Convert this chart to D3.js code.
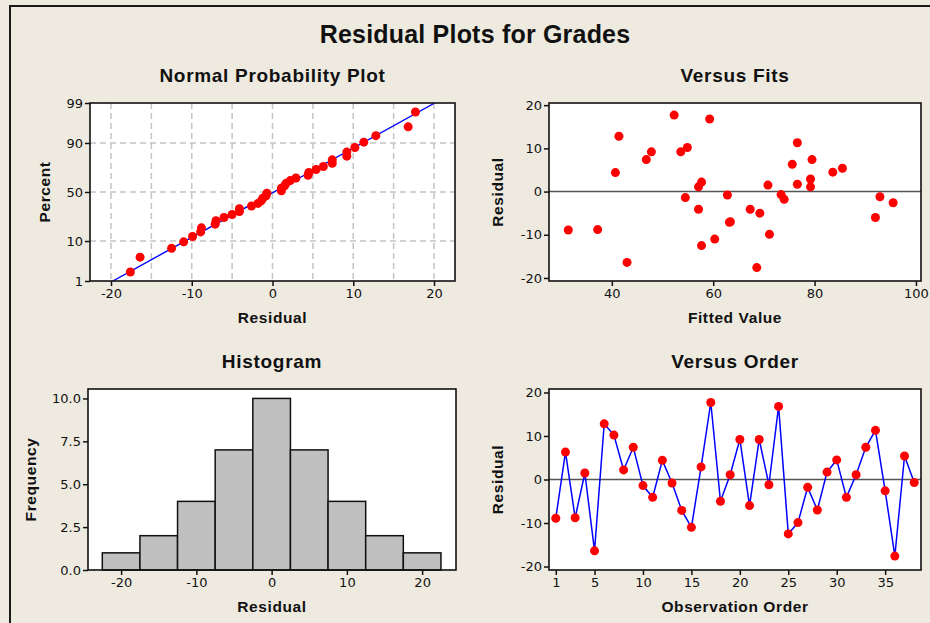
<!DOCTYPE html>
<html>
<head>
<meta charset="utf-8">
<script src="https://cdn.jsdelivr.net/npm/d3@7"></script>
<style>
body { margin: 0; background: #eeeae0; }
text { font-family: "Liberation Sans", Arial, sans-serif; fill: #111; }
</style>
</head>
<body>
<svg id="chart" width="930" height="623"></svg>
<script>
// residuals in observation order
var residuals = [-8.9, 6.3, -8.8, 1.5, -16.4, 12.8, 10.2, 2.2, 7.4, -1.4,
    -4.1, 4.4, -0.8, -7.1, -11.0, 2.9, 17.7, -5.0, 1.1, 9.2,
    -6.0, 9.2, -1.2, 16.8, -12.5, -9.9, -1.8, -7.0, 1.7, 4.5,
    -4.1, 1.1, 7.4, 11.3, -2.6, -17.6, 5.4, -0.7];
// fitted values, same order
var fitted = [31.4, 75.6, 37.2, 70.8, 43.0, 41.4, 54.9, 57.7, 46.8, 54.5,
    57.1, 40.7, 62.8, 63.2, 60.3, 79.2, 52.3, 69.2, 57.1, 47.8,
    92.0, 53.6, 92.9, 59.3, 57.7, 71.1, 74.0, 63.4, 76.6, 83.6,
    67.3, 79.2, 79.5, 76.6, 95.5, 68.6, 85.5, 73.4];
var obsOrder = d3.range(1, residuals.length + 1);

// histogram bins
var binEdges = [-22.5, -17.5, -12.5, -7.5, -2.5, 2.5, 7.5, 12.5, 17.5, 22.5];
var binCounts = [1, 2, 4, 7, 10, 7, 4, 2, 1];

// tick labels
var pctTicks = [1, 10, 50, 90, 99];
var residTicks = [-20, -10, 0, 10, 20];
var fitTicks = [40, 60, 80, 100];
var freqTicks = [0, 2.5, 5, 7.5, 10];
var orderTicks = [1, 5, 10, 15, 20, 25, 30, 35];
var nppGrid = [-20, -15, -10, -5, 0, 5, 10, 15, 20];

var svg = d3.select("#chart");

// inverse normal cdf (Acklam)
function probit(p) {
    var a = [-39.69683028665376, 220.9460984245205, -275.9285104469687, 138.3577518672690, -30.66479806614716, 2.506628277459239],
        b = [-54.47609879822406, 161.5858368580409, -155.6989798598866, 66.80131188771972, -13.28068155288572],
        c = [-0.007784894002430293, -0.3223964580411365, -2.400758277161838, -2.549732539343734, 4.374664141464968, 2.938163982698783],
        d = [0.007784695709041462, 0.3224671290700398, 2.445134137142996, 3.754408661907416];
    var q, r;
    if (p < 0.02425) {
        q = Math.sqrt(-2 * Math.log(p));
        return (((((c[0]*q+c[1])*q+c[2])*q+c[3])*q+c[4])*q+c[5]) / ((((d[0]*q+d[1])*q+d[2])*q+d[3])*q+1);
    } else if (p > 1 - 0.02425) {
        q = Math.sqrt(-2 * Math.log(1 - p));
        return -(((((c[0]*q+c[1])*q+c[2])*q+c[3])*q+c[4])*q+c[5]) / ((((d[0]*q+d[1])*q+d[2])*q+d[3])*q+1);
    }
    q = p - 0.5; r = q * q;
    return (((((a[0]*r+a[1])*r+a[2])*r+a[3])*r+a[4])*r+a[5])*q / (((((b[0]*r+b[1])*r+b[2])*r+b[3])*r+b[4])*r+1);
}

function erf(x) {
    var t = 1 / (1 + 0.3275911 * Math.abs(x));
    var y = 1 - (((((1.061405429 * t - 1.453152027) * t) + 1.421413741) * t - 0.284496736) * t + 0.254829592) * t * Math.exp(-x * x);
    return x >= 0 ? y : -y;
}

// outer frame
svg.append("rect")
    .attr("x", 10).attr("y", 6)
    .attr("width", 940).attr("height", 640)
    .attr("fill", "#eeeae0")
    .attr("stroke", "#1a1a1a")
    .attr("stroke-width", 2);

svg.append("text")
    .attr("x", 475).attr("y", 43)
    .attr("text-anchor", "middle")
    .style("font-size", "25px").style("font-weight", "bold")
    .style("letter-spacing", "0.2px")
    .text("Residual Plots for Grades");

function panel(box, title, xlab, ylab) {
    var g = svg.append("g");
    g.append("rect")
        .attr("x", box.x0).attr("y", box.y0)
        .attr("width", box.x1 - box.x0).attr("height", box.y1 - box.y0)
        .attr("fill", "white");
    g.append("text")
        .attr("x", (box.x0 + box.x1) / 2).attr("y", box.y0 - 21)
        .attr("text-anchor", "middle")
        .style("font-size", "19px").style("font-weight", "bold")
        .style("letter-spacing", "0.7px")
        .text(title);
    g.append("text")
        .attr("x", (box.x0 + box.x1) / 2).attr("y", box.y1 + 42)
        .attr("text-anchor", "middle")
        .style("font-size", "15.5px").style("font-weight", "bold")
        .style("letter-spacing", "0.6px")
        .text(xlab);
    g.append("text")
        .attr("transform", "translate(" + box.ylx + "," + ((box.y0 + box.y1) / 2) + ") rotate(-90)")
        .attr("text-anchor", "middle")
        .style("font-size", "15.5px").style("font-weight", "bold")
        .style("letter-spacing", "0.6px")
        .text(ylab);
    return g;
}

function axes(g, box, x, y, xt, yt, yfmt) {
    var xa = g.append("g")
        .attr("transform", "translate(0," + box.y1 + ")")
        .call(d3.axisBottom(x).tickValues(xt).tickSize(5).tickPadding(3).tickFormat(function (d) { return String(d); }));
    var ya = g.append("g")
        .attr("transform", "translate(" + box.x0 + ",0)")
        .call(d3.axisLeft(y).tickValues(yt).tickSize(5).tickPadding(2).tickFormat(yfmt || function (d) { return String(d); }));
    [xa, ya].forEach(function (a) {
        a.attr("font-size", null).attr("font-family", null);
        a.select(".domain").remove();
        a.selectAll(".tick line").attr("stroke", "#111").attr("stroke-width", 1.5);
        a.selectAll(".tick text")
            .style("font-size", "13px")
            .style("font-family", "\"DejaVu Sans\", Verdana, sans-serif")
            .attr("fill", "#1a1a1a");
    });
}

function frame(g, box) {
    g.append("rect")
        .attr("x", box.x0).attr("y", box.y0)
        .attr("width", box.x1 - box.x0).attr("height", box.y1 - box.y0)
        .attr("fill", "none")
        .attr("stroke", "#111")
        .attr("stroke-width", 1.6);
}

// ---------- Normal probability plot ----------
var b1 = { x0: 90, x1: 455, y0: 103, y1: 281, ylx: 50 };
var g1 = panel(b1, "Normal Probability Plot", "Residual", "Percent");
var x1 = d3.scaleLinear().domain([-22.6, 22.6]).range([b1.x0, b1.x1]);
var zMax = probit(0.99);
var y1 = d3.scaleLinear().domain([-zMax, zMax]).range([b1.y1, b1.y0]);

g1.selectAll(".vgrid").data(nppGrid).enter().append("line")
    .attr("x1", d => x1(d)).attr("x2", d => x1(d))
    .attr("y1", b1.y0).attr("y2", b1.y1)
    .attr("stroke", "#c4c4c4").attr("stroke-width", 1.5).attr("stroke-dasharray", "6,4");
g1.selectAll(".hgrid").data(pctTicks.slice(1, 4)).enter().append("line")
    .attr("x1", b1.x0).attr("x2", b1.x1)
    .attr("y1", d => y1(probit(d / 100))).attr("y2", d => y1(probit(d / 100)))
    .attr("stroke", "#c4c4c4").attr("stroke-width", 1.5).attr("stroke-dasharray", "6,4");

var n = residuals.length;
var mean = d3.mean(residuals), sd = d3.deviation(residuals);
var sorted = residuals.slice().sort(d3.ascending);

g1.append("clipPath").attr("id", "clip1").append("rect")
    .attr("x", b1.x0).attr("y", b1.y0).attr("width", b1.x1 - b1.x0).attr("height", b1.y1 - b1.y0);
g1.append("line")
    .attr("clip-path", "url(#clip1)")
    .attr("x1", x1(mean - sd * zMax)).attr("y1", y1(-zMax))
    .attr("x2", x1(mean + sd * zMax)).attr("y2", y1(zMax))
    .attr("stroke", "#0000ff").attr("stroke-width", 1.4);
g1.selectAll(".pt").data(sorted).enter().append("circle")
    .attr("cx", d => x1(d))
    .attr("cy", (d, i) => y1(probit((i + 1 - 0.3) / (n + 0.4))))
    .attr("r", 4.5).attr("fill", "#ff0000");
axes(g1, b1, x1, y1, residTicks, pctTicks.map(p => probit(p / 100)), function (z) {
    return String(Math.round(100 * (0.5 * (1 + erf(z / Math.SQRT2)))));
});
frame(g1, b1);

// ---------- Versus Fits ----------
var b2 = { x0: 549, x1: 921, y0: 103, y1: 281, ylx: 503 };
var g2 = panel(b2, "Versus Fits", "Fitted Value", "Residual");
var x2 = d3.scaleLinear().domain([27.6, 101]).range([b2.x0, b2.x1]);
var y2 = d3.scaleLinear().domain([-20.7, 20.5]).range([b2.y1, b2.y0]);
g2.append("line")
    .attr("x1", b2.x0).attr("x2", b2.x1)
    .attr("y1", y2(0)).attr("y2", y2(0))
    .attr("stroke", "#555").attr("stroke-width", 1.6);
g2.selectAll(".pt").data(residuals).enter().append("circle")
    .attr("cx", (d, i) => x2(fitted[i]))
    .attr("cy", d => y2(d))
    .attr("r", 4.5).attr("fill", "#ff0000");
axes(g2, b2, x2, y2, fitTicks, residTicks);
frame(g2, b2);

// ---------- Histogram ----------
var b3 = { x0: 88, x1: 456, y0: 389, y1: 570, ylx: 36 };
var g3 = panel(b3, "Histogram", "Residual", "Frequency");
var x3 = d3.scaleLinear().domain([-24.4, 24.5]).range([b3.x0, b3.x1]);
var y3 = d3.scaleLinear().domain([0, 10.55]).range([b3.y1, b3.y0]);
g3.selectAll(".bar").data(binCounts).enter().append("rect")
    .attr("x", (d, i) => x3(binEdges[i]))
    .attr("width", (d, i) => x3(binEdges[i + 1]) - x3(binEdges[i]))
    .attr("y", d => y3(d))
    .attr("height", d => y3(0) - y3(d))
    .attr("fill", "#c0c0c0")
    .attr("stroke", "#111").attr("stroke-width", 1.5);
axes(g3, b3, x3, y3, residTicks, freqTicks, d3.format(".1f"));
frame(g3, b3);

// ---------- Versus Order ----------
var b4 = { x0: 549, x1: 921, y0: 389, y1: 570, ylx: 503 };
var g4 = panel(b4, "Versus Order", "Observation Order", "Residual");
var x4 = d3.scaleLinear().domain([0.3, 38.7]).range([b4.x0, b4.x1]);
var y4 = d3.scaleLinear().domain([-20.8, 20.8]).range([b4.y1, b4.y0]);
g4.append("line")
    .attr("x1", b4.x0).attr("x2", b4.x1)
    .attr("y1", y4(0)).attr("y2", y4(0))
    .attr("stroke", "#555").attr("stroke-width", 1.6);
g4.append("path")
    .datum(residuals)
    .attr("d", d3.line().x((d, i) => x4(obsOrder[i])).y(d => y4(d)))
    .attr("fill", "none")
    .attr("stroke", "#0000ff").attr("stroke-width", 1.5);
g4.selectAll(".pt").data(residuals).enter().append("circle")
    .attr("cx", (d, i) => x4(obsOrder[i]))
    .attr("cy", d => y4(d))
    .attr("r", 4.5).attr("fill", "#ff0000");
axes(g4, b4, x4, y4, orderTicks, residTicks);
frame(g4, b4);
</script>
</body>
</html>
